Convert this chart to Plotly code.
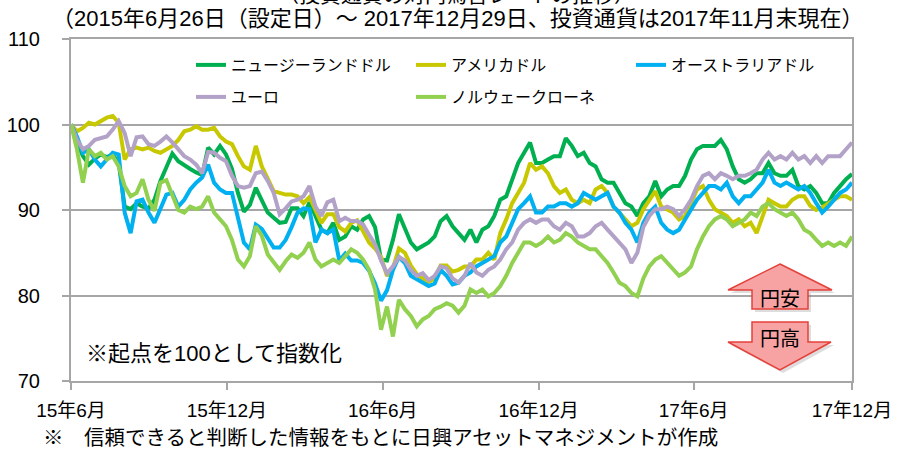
import pandas as pd
import plotly.graph_objects as go

# ---------------- data (weekly index, start = 100) ----------------
start_date = "2015-06-26"
n_weeks = 132

nzd = [100, 97.9, 96.3, 95.3, 96.0, 96.5, 96.2, 96.5, 95.5, 90.4,
       90.1, 90.8, 90.4, 90.2, 91.2, 93.4, 95.0, 96.6, 95.7, 95.2,
       94.8, 94.4, 94.1, 97.3, 96.5, 97.5, 96.5, 94.8, 92.0, 89.8,
       90.6, 92.6, 91.2, 89.7, 89.1, 88.5, 88.6, 90.2, 90.2, 89.3,
       90.9, 89.3, 87.7, 87.3, 88.5, 86.5, 86.9, 88.1, 87.7, 88.9,
       89.3, 88.0, 84.2, 84.1, 86.5, 89.5, 87.7, 86.2, 85.4, 85.8,
       86.2, 86.9, 88.7, 89.3, 88.1, 87.3, 86.5, 87.7, 86.2, 87.7,
       88.1, 89.3, 91.2, 91.6, 93.6, 95.5, 96.7, 97.9, 95.5, 95.5,
       95.9, 96.3, 96.3, 98.4, 97.5, 96.3, 96.7, 95.5, 95.1, 93.6,
       93.2, 93.2, 92.0, 90.8, 90.4, 89.3, 90.8, 91.6, 93.4, 91.6,
       92.4, 92.8, 92.8, 94.0, 95.9, 97.1, 97.5, 97.5, 97.5, 98.2,
       97.1, 95.1, 93.6, 93.2, 93.6, 94.3, 94.3, 95.5, 94.3, 94.0,
       94.0, 94.7, 92.8, 92.4, 92.8, 92.0, 90.8, 90.8, 92.0, 92.8,
       93.6, 94.2]

usd = [100, 99.2, 99.6, 100.2, 100.0, 100.4, 100.8, 101.0, 100.2, 95.9,
       97.1, 97.3, 97.1, 97.3, 96.9, 96.7, 97.1, 97.5, 98.2, 99.2,
       99.4, 99.8, 99.4, 99.4, 99.6, 98.6, 98.0, 97.7, 96.3, 95.1,
       94.7, 97.5, 95.1, 93.6, 92.2, 92.0, 91.8, 91.8, 91.6, 90.8,
       91.5, 90.0, 88.5, 89.5, 89.5, 88.0, 87.5, 88.5, 88.8, 87.5,
       86.2, 85.5, 84.5, 82.3, 83.2, 85.5, 85.0, 83.5, 82.5, 82.0,
       81.6, 82.0, 83.5, 83.5, 82.8, 83.0, 83.4, 83.4, 84.2, 84.2,
       85.0, 84.2, 87.3, 88.9, 90.8, 92.0, 93.2, 95.5, 94.7, 95.1,
       94.3, 92.8, 92.0, 92.4, 91.2, 90.8, 91.2, 90.8, 92.4, 92.8,
       92.0, 90.4, 89.7, 88.9, 88.1, 88.5, 90.1, 91.2, 92.2, 90.4,
       90.1, 89.7, 88.9, 89.3, 90.8, 92.4, 92.8, 91.2, 90.1, 89.7,
       89.3, 88.5, 88.9, 88.1, 88.5, 87.3, 89.3, 91.2, 90.8, 90.4,
       90.4, 91.2, 91.6, 91.6, 90.5, 90.0, 90.3, 90.8, 91.2, 91.6,
       91.6, 91.2]

aud = [100, 98.6, 96.7, 97.1, 95.9, 95.1, 95.9, 96.7, 96.5, 89.7,
       87.3, 91.0, 91.2, 89.7, 88.5, 90.1, 91.8, 92.0, 90.4, 91.2,
       92.4, 93.2, 93.8, 95.3, 93.2, 92.4, 92.0, 92.0, 89.3, 86.2,
       85.4, 88.3, 87.8, 86.8, 85.6, 85.6, 86.5, 88.0, 89.7, 90.2,
       90.1, 86.2, 87.7, 87.3, 87.7, 84.1, 84.9, 84.1, 84.1, 83.8,
       82.9, 81.4, 79.4, 80.6, 83.0, 84.5, 83.8, 82.3, 81.9, 81.4,
       81.1, 81.4, 83.0, 82.3, 81.3, 81.5, 82.3, 82.7, 83.4, 83.8,
       84.2, 84.6, 86.2, 86.9, 88.5, 90.1, 90.8, 91.6, 89.7, 89.7,
       90.4, 90.4, 90.8, 90.8, 90.4, 90.8, 92.0, 91.6, 91.2, 91.6,
       92.0, 90.4, 89.7, 88.5, 87.7, 86.2, 88.5, 89.7, 90.4, 88.5,
       87.7, 87.3, 87.7, 88.9, 90.1, 91.2, 92.0, 92.8, 92.8, 92.4,
       93.2, 91.6, 90.8, 91.6, 91.6, 92.4, 93.2, 94.7, 93.2, 92.8,
       93.2, 92.8, 92.4, 92.8, 92.0, 90.8, 89.7, 90.4, 91.2, 92.0,
       92.4, 93.2]

eur = [100, 98.2, 97.1, 97.5, 98.2, 98.4, 98.6, 99.4, 100.4, 99.0,
       96.3, 98.5, 98.6, 97.7, 97.5, 98.0, 98.6, 97.9, 97.1, 96.3,
       95.9, 95.3, 94.3, 96.8, 96.7, 96.1, 95.7, 94.0, 92.8, 92.6,
       92.8, 94.3, 94.5, 93.4, 92.0, 89.5, 90.2, 91.0, 91.2, 91.6,
       92.8, 90.4, 89.3, 90.9, 91.2, 88.7, 89.1, 88.7, 88.7, 88.3,
       87.1, 86.0, 84.1, 82.6, 83.4, 84.5, 84.1, 83.0, 82.3, 82.6,
       81.8, 82.3, 83.4, 83.2, 82.0, 81.5, 82.3, 83.8, 82.7, 82.3,
       83.0, 83.4, 84.2, 85.4, 86.2, 87.7, 88.5, 88.9, 88.5, 88.9,
       88.9, 88.1, 87.7, 88.5, 88.1, 86.9, 86.9, 87.3, 88.1, 88.5,
       87.7, 86.9, 86.2, 85.4, 83.8, 85.0, 88.0, 89.3, 90.1, 90.1,
       90.4, 90.1, 89.3, 90.1, 91.2, 92.8, 94.0, 94.3, 93.6, 94.3,
       94.0, 93.6, 94.0, 94.0, 94.3, 94.7, 95.9, 96.7, 95.9, 96.3,
       95.9, 96.7, 95.9, 96.3, 95.5, 96.3, 95.5, 96.3, 96.3, 96.3,
       97.1, 97.9]

nok = [100, 97.1, 93.2, 97.1, 96.3, 96.7, 95.9, 96.3, 95.1, 92.8,
       91.6, 92.0, 93.6, 91.2, 89.9, 93.2, 93.5, 91.6, 90.0, 89.7,
       90.4, 90.1, 90.4, 91.6, 89.7, 88.9, 88.1, 86.5, 84.2, 83.4,
       84.6, 88.1, 87.0, 84.8, 83.8, 83.0, 84.0, 84.8, 84.4, 85.0,
       86.2, 84.2, 83.4, 83.8, 84.2, 83.8, 84.6, 85.4, 85.0, 84.2,
       83.0, 80.7, 76.0, 78.7, 75.2, 79.5, 78.4, 77.6, 76.4, 77.2,
       77.6, 78.4, 78.7, 79.1, 78.8, 78.0, 78.8, 80.7, 80.3, 80.7,
       79.9, 80.3, 81.1, 82.3, 83.8, 85.0, 86.2, 86.2, 85.8, 86.2,
       86.9, 86.2, 86.5, 87.3, 86.9, 86.2, 85.8, 85.4, 85.4, 84.6,
       83.8, 82.7, 81.5, 81.1, 80.3, 79.9, 82.0, 83.4, 84.2, 84.6,
       83.8, 83.0, 82.3, 82.7, 83.4, 85.4, 86.9, 88.1, 88.9, 89.3,
       88.9, 88.1, 88.5, 88.9, 89.7, 89.3, 90.4, 90.8, 90.1, 89.7,
       89.3, 89.7, 88.9, 87.7, 87.3, 86.5, 85.8, 86.2, 85.8, 86.2,
       85.8, 86.9]

series_names = ["ニュージーランドドル", "アメリカドル", "オーストラリアドル", "ユーロ", "ノルウェークローネ"]
tick_dates = ["2015-06-26", "2015-12-26", "2016-06-26", "2016-12-26", "2017-06-26", "2017-12-29"]
tick_labels = ["15年6月", "15年12月", "16年6月", "16年12月", "17年6月", "17年12月"]
y_ticks = [70, 80, 90, 100, 110]

# ---------------- figure ----------------
dates = pd.date_range(start=start_date, periods=n_weeks, freq="7D")

colors = ["#00b050", "#c8c800", "#00b0f0", "#b3a2c7", "#92d050"]
legends = ["legend", "legend", "legend", "legend2", "legend2"]
values = [nzd, usd, aud, eur, nok]

FONT = "Liberation Sans, Arial, 'Noto Sans CJK JP', sans-serif"
JFONT = "'Noto Sans CJK JP', sans-serif"

fig = go.Figure()
for name, vals, col, lg in zip(series_names, values, colors, legends):
    fig.add_trace(go.Scatter(x=dates, y=vals, mode="lines", name=name,
                             line=dict(color=col, width=4), legend=lg))

W, H = 897, 451
L, R, T, B = 71, 45, 39, 70
pw, ph = W - L - R, H - T - B


def px(xp):
    return (xp - L) / pw


def py(yp):
    return (H - B - yp) / ph


grid = "#a6a6a6"
fig.update_layout(
    width=W, height=H,
    margin=dict(l=L, r=R, t=T, b=B, autoexpand=False),
    paper_bgcolor="white", plot_bgcolor="white",
    font=dict(family=FONT, color="black"),
    showlegend=True,
    legend=dict(orientation="h", x=px(191), y=py(65), xanchor="left", yanchor="middle",
                entrywidth=175, entrywidthmode="pixels", bgcolor="rgba(0,0,0,0)",
                font=dict(family=JFONT, size=16), tracegroupgap=0),
    legend2=dict(orientation="h", x=px(191), y=py(97), xanchor="left", yanchor="middle",
                 entrywidth=175, entrywidthmode="pixels", bgcolor="rgba(0,0,0,0)",
                 font=dict(family=JFONT, size=16), tracegroupgap=0),
    xaxis=dict(type="date", range=[tick_dates[0], tick_dates[-1]],
               tickvals=tick_dates, ticktext=tick_labels, automargin=False,
               showgrid=False, zeroline=False,
               showline=True, linecolor=grid, linewidth=2, mirror=True,
               ticks="outside", ticklen=7, tickcolor=grid, tickwidth=1.5,
               tickfont=dict(size=19, family=FONT), ticklabelstandoff=4),
    yaxis=dict(range=[70, 110], tickvals=y_ticks, automargin=False,
               showgrid=True, gridcolor=grid, gridwidth=1.5, zeroline=False,
               showline=True, linecolor=grid, linewidth=2, mirror=True,
               ticks="outside", ticklen=7, tickcolor=grid, tickwidth=1.5,
               tickfont=dict(size=20, family=FONT), ticklabelstandoff=18),
)

# titles / notes (the main title is cropped at the top edge, as in the reference)
fig.add_annotation(text="（投資通貨の対円為替レートの推移）", xref="paper", yref="paper",
                   x=px(456), y=py(10), xanchor="center", yanchor="bottom",
                   showarrow=False, font=dict(family=JFONT, size=21))
fig.add_annotation(text="（2015年6月26日（設定日）～ 2017年12月29日、投資通貨は2017年11月末現在）",
                   xref="paper", yref="paper", x=px(457), y=py(19), xanchor="center", yanchor="middle",
                   showarrow=False, font=dict(family=FONT, size=22))
fig.add_annotation(text="※起点を100として指数化", xref="paper", yref="paper",
                   x=px(84), y=py(353), xanchor="left", yanchor="middle",
                   showarrow=False, font=dict(family=FONT, size=22))
fig.add_annotation(text="※　信頼できると判断した情報をもとに日興アセットマネジメントが作成",
                   xref="paper", yref="paper", x=px(41), y=py(437), xanchor="left", yanchor="middle",
                   showarrow=False, font=dict(family=FONT, size=20.5))


def poly(points):
    return "M " + " L ".join(f"{px(a):.5f},{py(b):.5f}" for a, b in points) + " Z"


up_arrow = [(780, 264), (832, 290), (808, 290), (808, 309), (752, 309), (752, 290), (728, 290)]
down_arrow = [(752, 322), (808, 322), (808, 342), (831, 342), (780, 370), (728, 342), (752, 342)]
for pts in (up_arrow, down_arrow):
    shadow = [(a + 3, b + 3) for a, b in pts]
    fig.add_shape(type="path", path=poly(shadow), xref="paper", yref="paper",
                  fillcolor="rgba(120,120,120,0.25)", line=dict(width=0), layer="above")
    fig.add_shape(type="path", path=poly(pts), xref="paper", yref="paper",
                  fillcolor="#f7a3a3", line=dict(color="#e5403a", width=1.5), layer="above")

fig.add_annotation(text="円安", xref="paper", yref="paper", x=px(780), y=py(297),
                   xanchor="center", yanchor="middle",
                   showarrow=False, font=dict(family=JFONT, size=20, color="black"))
fig.add_annotation(text="円高", xref="paper", yref="paper", x=px(780), y=py(337),
                   xanchor="center", yanchor="middle",
                   showarrow=False, font=dict(family=JFONT, size=20, color="black"))

fig.write_html("out.html", config={"displayModeBar": False},
               post_script="document.body.style.margin='0';document.body.style.overflow='hidden';")
